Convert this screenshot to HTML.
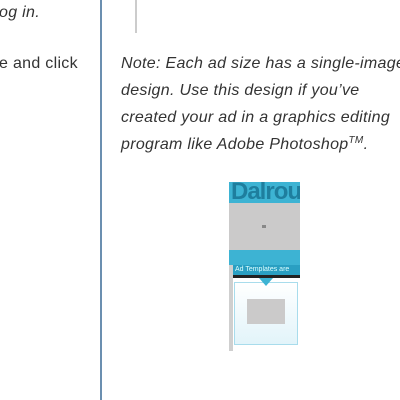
<!DOCTYPE html>
<html><head><style>
body{margin:0;width:400px;height:400px;overflow:hidden;background:#fff;position:relative;font-family:"Liberation Sans",sans-serif;color:#333;}
.t{position:absolute;white-space:nowrap;font-size:16px;font-style:italic;line-height:27px;letter-spacing:0.3px;}
.a{position:absolute;}
</style></head><body>
<div class="t" style="left:-1px;top:-1px;">og in.</div>
<div class="t" style="left:-1px;top:50px;font-style:normal;">e and click</div>
<div class="a" style="left:100px;top:0;width:2px;height:400px;background:#6b8fb0;"></div>
<div class="a" style="left:135px;top:0;width:2px;height:33px;background:#ccc;"></div>
<div class="t" style="left:121px;top:50px;">Note: Each ad size has a single-image<br>design. Use this design if you’ve<br>created your ad in a graphics editing<br>program like Adobe Photoshop<span style="font-size:10px;line-height:0;vertical-align:6px">TM</span>.</div>
<div class="a" style="left:229px;top:182px;width:71px;height:83px;background:#3db3d3;overflow:hidden;"><div style="position:absolute;left:2px;top:-2px;font:bold 24px 'Liberation Sans Narrow','Liberation Sans',sans-serif;color:#1e7e9e;letter-spacing:-1px;line-height:24px;">Dalrour</div></div>
<div class="a" style="left:229px;top:203px;width:71px;height:47px;background:#cbcaca;"></div>
<div class="a" style="left:262px;top:225px;width:4px;height:3px;background:#888;"></div>
<div class="a" style="left:233px;top:265px;width:67px;height:10px;background:#2a9fc2;font-size:7px;color:#dff;line-height:10px;white-space:nowrap;overflow:hidden;">&nbsp;Ad Templates are</div>
<div class="a" style="left:229px;top:275px;width:71px;height:3px;background:#222;"></div>
<div class="a" style="left:229px;top:265px;width:4px;height:86px;background:#cfcfcf;"></div>
<div class="a" style="left:234px;top:282px;width:62px;height:61px;border:1px solid #a8dcec;background:linear-gradient(#fff,#e2f4fa);"></div>
<div class="a" style="left:259px;top:278px;width:0;height:0;border-left:7px solid transparent;border-right:7px solid transparent;border-top:8px solid #3db3d3;"></div>
<div class="a" style="left:247px;top:299px;width:38px;height:25px;background:#cbcaca;"></div>
</body></html>
